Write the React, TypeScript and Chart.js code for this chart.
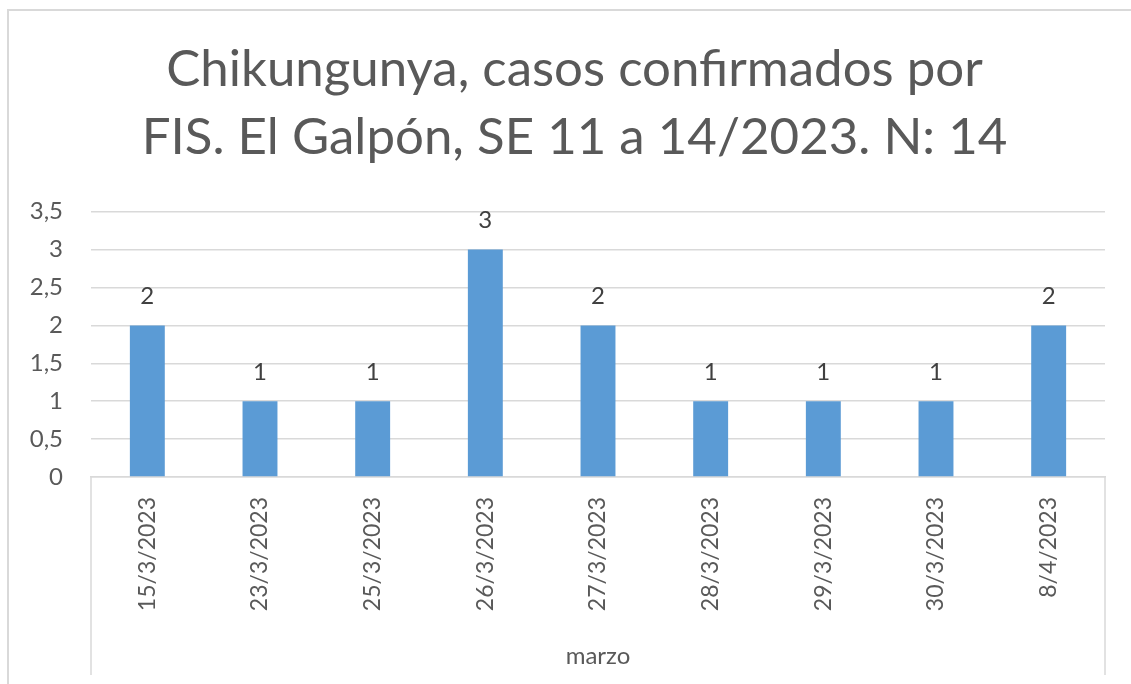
import React, { useEffect, useRef } from "react";
import { Chart, registerables } from "chart.js";

Chart.register(...registerables);

const categories = [
  "15/3/2023",
  "23/3/2023",
  "25/3/2023",
  "26/3/2023",
  "27/3/2023",
  "28/3/2023",
  "29/3/2023",
  "30/3/2023",
  "8/4/2023",
];
const casos = [2, 1, 1, 3, 2, 1, 1, 1, 2];
const groupLabel = "marzo";
const titleLines = [
  "Chikungunya, casos confirmados por",
  "FIS. El Galpón, SE 11 a 14/2023. N: 14",
];
const yMin = 0;
const yMax = 3.5;
const yStep = 0.5;

const FONT = "Lato, 'Open Sans', sans-serif";
const GRID = "#d9d9d9";
const TEXT = "#595959";

const dataLabelPlugin = {
  id: "dataLabels",
  afterDatasetsDraw(chart: any) {
    const ctx = chart.ctx;
    const meta = chart.getDatasetMeta(0);
    ctx.save();
    ctx.font = `24px ${FONT}`;
    ctx.fillStyle = "#404040";
    ctx.textAlign = "center";
    ctx.textBaseline = "middle";
    meta.data.forEach((bar: any, i: number) => {
      ctx.fillText(String(chart.data.datasets[0].data[i]), bar.x, bar.y - 29);
    });
    ctx.restore();
  },
};

const groupAxisPlugin = {
  id: "groupAxis",
  afterDraw(chart: any) {
    const { ctx, chartArea } = chart;
    ctx.save();
    ctx.strokeStyle = GRID;
    ctx.lineWidth = 1.5;
    const bottom = chart.height - 9;
    [chartArea.left, chartArea.right].forEach((x: number) => {
      ctx.beginPath();
      ctx.moveTo(x, chartArea.bottom);
      ctx.lineTo(x, bottom);
      ctx.stroke();
    });
    ctx.font = `24px ${FONT}`;
    ctx.fillStyle = TEXT;
    ctx.textAlign = "center";
    ctx.textBaseline = "middle";
    ctx.fillText(groupLabel, (chartArea.left + chartArea.right) / 2, chart.height - 28);
    ctx.restore();
  },
};

export default function App() {
  const ref = useRef<HTMLCanvasElement>(null);
  useEffect(() => {
    if (!ref.current) return;
    const chart = new Chart(ref.current, {
      type: "bar",
      data: {
        labels: categories,
        datasets: [
          {
            data: casos,
            backgroundColor: "#5B9BD5",
            barPercentage: 0.31,
            categoryPercentage: 1,
          },
        ],
      },
      options: {
        responsive: false,
        animation: false,
        layout: { padding: { left: 22, right: 4, top: 0, bottom: 0 } },
        plugins: {
          legend: { display: false },
          tooltip: { enabled: false },
          title: {
            display: true,
            text: titleLines,
            color: TEXT,
            font: { family: FONT, size: 51, weight: "normal", lineHeight: 1.33 },
            padding: { top: 36, bottom: 40 },
          },
        },
        scales: {
          x: {
            grid: { display: false, drawTicks: false },
            border: { display: true, color: GRID, width: 1.5 },
            ticks: {
              autoSkip: false,
              minRotation: 90,
              maxRotation: 90,
              padding: 20,
              color: TEXT,
              font: { family: FONT, size: 23 },
            },
            afterFit: (s: any) => {
              s.height = 207;
            },
          },
          y: {
            min: yMin,
            max: yMax,
            grid: { color: GRID, lineWidth: 1.5, drawTicks: false },
            border: { display: false },
            ticks: {
              stepSize: yStep,
              padding: 28,
              color: TEXT,
              font: { family: FONT, size: 24 },
              callback: (v: any) => String(v).replace(".", ","),
            },
            afterFit: (s: any) => {
              s.width = 69;
            },
          },
          y2: {
            position: "right",
            display: true,
            grid: { display: false, drawTicks: false },
            border: { display: false },
            ticks: { display: false },
            afterFit: (s: any) => {
              s.width = 22;
            },
          },
        },
      },
      plugins: [dataLabelPlugin, groupAxisPlugin],
    });
    return () => chart.destroy();
  }, []);

  return (
    <div
      style={{
        position: "fixed",
        left: 0,
        top: 0,
        width: 1131,
        height: 684,
        overflow: "hidden",
        background: "#fff",
      }}
    >
      <div
        style={{
          position: "absolute",
          left: 7,
          top: 9,
          width: 1300,
          height: 900,
          borderLeft: `2px solid ${GRID}`,
          borderTop: `2px solid ${GRID}`,
        }}
      />
      <canvas
        ref={ref}
        width={1131}
        height={684}
        style={{ position: "absolute", left: 0, top: 0 }}
      />
    </div>
  );
}
